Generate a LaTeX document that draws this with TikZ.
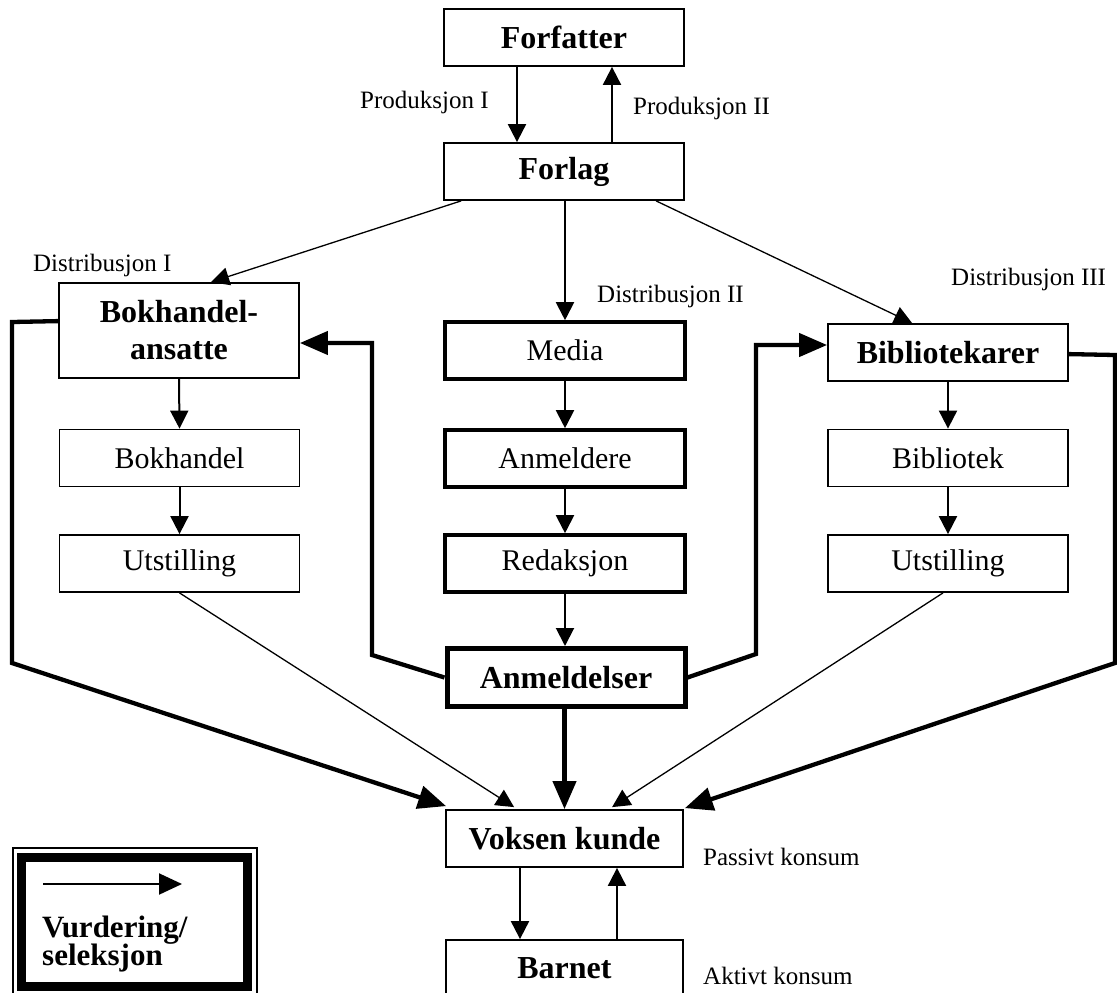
\documentclass[tikz,border=0pt]{standalone}
\usepackage{fontspec}
\setmainfont{Liberation Serif}
\usetikzlibrary{arrows.meta,calc}
\tikzset{
  box/.style={draw, line width=1.8pt, inner sep=0pt, minimum width=240pt, minimum height=57pt, align=center, font=\fontsize{30}{34}\selectfont},
  boldbox/.style={box, font=\fontsize{32}{37}\selectfont\bfseries},
  thickbox/.style={box, line width=3.6pt},
  lab/.style={inner sep=0pt, anchor=base west, font=\fontsize{25}{28}\selectfont},
  arr/.style={line width=2pt, -{Triangle[length=18pt,width=18pt]}},
  thinarr/.style={line width=1.3pt, -{Triangle[length=18pt,width=18pt]}},
  thickarr/.style={line width=4.3pt, line join=miter, -{Triangle[length=28pt,width=23pt]}},
}
\begin{document}
\begin{tikzpicture}[x=1pt,y=-1pt]
\useasboundingbox (0,0) rectangle (1117,993);
% nodes
\node[boldbox] (forfatter) at (564,37.5) {Forfatter};
\node[boldbox] (forlag) at (564,171.5) {Forlag};
\node[boldbox, minimum height=95pt] (boka) at (179,330.5) {Bokhandel-\\ansatte};
\node[thickbox] (media) at (565,350.5) {Media};
\node[thickbox] (anmeldere) at (565,458.5) {Anmeldere};
\node[thickbox] (redaksjon) at (565,563.5) {Redaksjon};
\node[boldbox, line width=5pt, minimum width=238pt, minimum height=58pt] (anmeldelser) at (566,677.5) {Anmeldelser};
\node[box] (bokhandel) at (179.5,458) {Bokhandel};
\node[box] (utl) at (179.5,563.5) {Utstilling};
\node[boldbox] (bibliotekarer) at (948,352.5) {Bibliotekarer};
\node[box] (bibliotek) at (948,458) {Bibliotek};
\node[box] (utr) at (948,563.5) {Utstilling};
\node[boldbox, minimum width=237pt] (voksen) at (564.5,838.5) {Voksen kunde};
\node[boldbox, minimum width=237pt] (barnet) at (564.5,968.5) {Barnet};
% labels
\node[lab] (p1) at (360,108) {Produksjon I};
\node[lab] (p2) at (633,114) {Produksjon II};
\node[lab] (d1) at (33,271) {Distribusjon I};
\node[lab] (d2) at (597,302) {Distribusjon II};
\node[lab] (d3) at (951,285) {Distribusjon III};
\node[lab] (pk) at (703,865) {Passivt konsum};
\node[lab] (ak) at (703,984) {Aktivt konsum};
% helper coordinates
\coordinate (c517) at (517,0);
\coordinate (c612) at (612,0);
\coordinate (c520) at (520,0);
\coordinate (c617) at (617,0);
% production
\draw[arr] (forfatter.south -| c517) -- (forlag.north -| c517);
\draw[arr] (forlag.north -| c612) -- (forfatter.south -| c612);
% distribution
\draw[thinarr] ($(forlag.south west)+(18,0)$) -- ($(boka.north west)+(153,0)$);
\draw[arr] (forlag.south -| media.north) -- (media.north);
\draw[thinarr] ($(forlag.south west)+(213,0)$) -- ($(bibliotekarer.north west)+(85,0)$);
% columns
\draw[arr] (boka.south) -- (bokhandel.north);
\draw[arr] (bokhandel.south) -- (utl.north);
\draw[arr] (bibliotekarer.south) -- (bibliotek.north);
\draw[arr] (bibliotek.south) -- (utr.north);
\draw[arr] (media.south) -- (anmeldere.north);
\draw[arr] (anmeldere.south) -- (redaksjon.north);
\draw[arr] (redaksjon.south) -- (anmeldelser.north -| redaksjon.south);
% thick feedback lines
\draw[thickarr] ($(boka.north west)+(0,39)$) -- (12,322) -- (12,663) -- ($(voksen.north west)+(1,-3)$);
\draw[thickarr] (anmeldelser.west) -- (372,655) -- (372,343) -- (boka.east |- 0,343);
\draw[thickarr] (anmeldelser.east) -- (756,654) -- (756,345) -- (bibliotekarer.west |- 0,345);
\draw[thickarr] ($(bibliotekarer.north east)+(0,31)$) -- (1115,355) -- (1115,663) -- ($(voksen.north east)+(1,-1)$);
\draw[thickarr] (anmeldelser.south -| voksen.north) -- (voksen.north);
% thin to customer
\draw[thinarr] (utl.south) -- ($(voksen.north west)+(69,-2)$);
\draw[thinarr] ($(utr.south)+(-5,0)$) -- ($(voksen.north west)+(167,-2)$);
% consumption
\draw[arr] (voksen.south -| c520) -- (barnet.north -| c520);
\draw[arr] (barnet.north -| c617) -- (voksen.south -| c617);
% legend
\draw[line width=1.5pt] (13,848) rectangle (257,1005);
\draw[line width=9pt] (21.5,857) rectangle (247.5,986);
\coordinate (la) at (43,884);
\coordinate (lb) at (182,884);
\draw[line width=2pt, -{Triangle[length=23pt,width=21pt]}] (la) -- (lb);
\node[inner sep=0pt, anchor=base west, font=\fontsize{31}{37}\selectfont\bfseries] (v1) at (42,937) {Vurdering/};
\node[inner sep=0pt, anchor=base west, font=\fontsize{31}{37}\selectfont\bfseries] (v2) at (42,965) {seleksjon};
\end{tikzpicture}
\end{document}
